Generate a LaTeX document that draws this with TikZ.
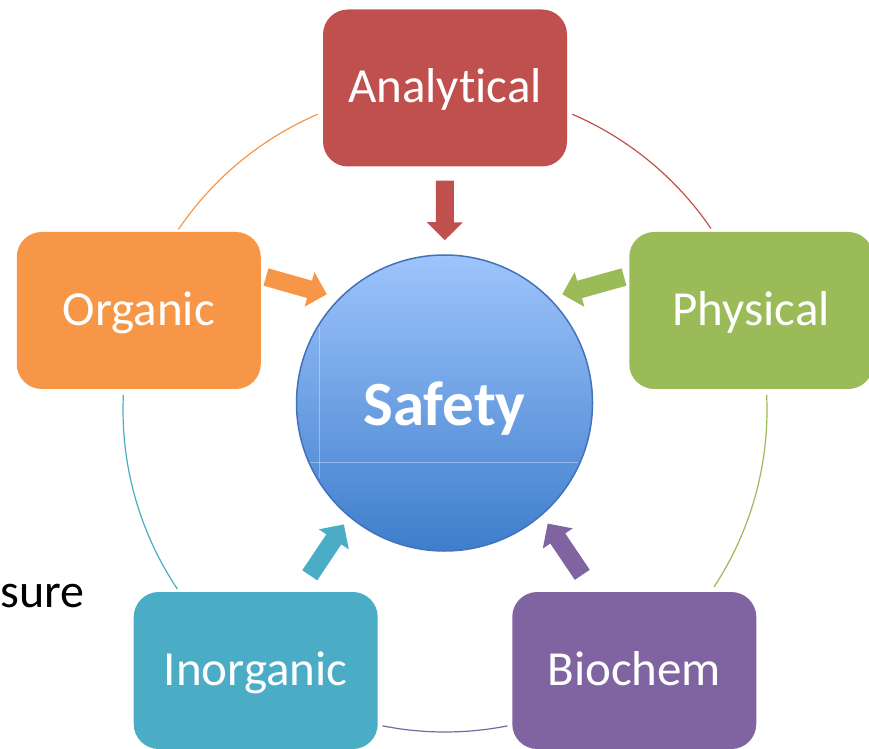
\documentclass[tikz,border=0pt]{standalone}
\usepackage{fontspec}
\setmainfont{Carlito}[Ligatures={NoCommon}]
\usetikzlibrary{arrows.meta}

\definecolor{anared}{RGB}{192,80,77}
\definecolor{orgorange}{RGB}{247,150,70}
\definecolor{phygreen}{RGB}{155,187,89}
\definecolor{inoteal}{RGB}{75,172,198}
\definecolor{biopurple}{RGB}{128,100,162}
\definecolor{safetop}{RGB}{158,196,252}
\definecolor{safebot}{RGB}{62,126,204}
\definecolor{safeline}{RGB}{66,114,186}

\tikzset{
  topic/.style={rectangle, rounded corners=25pt, minimum width=244pt, minimum height=157pt,
    inner sep=0pt, text=white, text height=30pt, text depth=0pt,
    font=\fontsize{49}{58}\selectfont},
  fatarrow/.style={line width=18pt, -{Triangle[width=35pt,length=18pt]}},
  ring/.style={line width=1.2pt},
}

\begin{document}
\begin{tikzpicture}[x=1pt,y=1pt]
\useasboundingbox (0,0) rectangle (869,748);
\coordinate (O) at (445,338);

% ring between the topics
\foreach \c/\a/\b in {orgorange/145.9/113.3, anared/66.7/34.3, phygreen/2.7/-33.3,
                      biopurple/-78.8/-101.2, inoteal/-146.2/-182.7} {
    \draw[ring,\c] ([shift={(\a:322pt)}]O) arc[start angle=\a, end angle=\b, radius=322pt];
}

% topics
\node[topic, fill=anared]    (ana) at ([shift={(90:322pt)}]O)  {Analytical};
\node[topic, fill=orgorange] (org) at ([shift={(162:322pt)}]O) {Organic};
\node[topic, fill=phygreen]  (phy) at ([shift={(18:322pt)}]O)  {Physical};
\node[topic, fill=inoteal]   (ino) at ([shift={(234:322pt)}]O) {Inorganic};
\node[topic, fill=biopurple] (bio) at ([shift={(306:322pt)}]O) {Biochem};

% centre
\node[circle, minimum size=296pt, inner sep=0pt, draw=safeline, line width=1.5pt,
      top color=safetop, bottom color=safebot, text=white, text height=44pt, text depth=0pt,
      font=\fontsize{63}{72}\selectfont\bfseries] (safety) at (444.5,345) {Safety};
\draw[white, opacity=0.35, line width=0.8pt] (319,421) -- (319,270);
\draw[white, opacity=0.35, line width=0.8pt] (310,286) -- (578,286);

% arrows into the centre
\draw[fatarrow, anared, shorten <=14pt, shorten >=14pt] (ana) -- (safety);
\draw[fatarrow, orgorange, shorten >=13pt] ([xshift=5pt,yshift=33.5pt]org.east) -- (safety.135);
\draw[fatarrow, phygreen, shorten >=13pt] ([xshift=-5pt,yshift=33.5pt]phy.west) -- (safety.45);
\draw[fatarrow, inoteal, shorten >=9pt] ([xshift=54pt,yshift=16.5pt]ino.north) -- (safety.230);
\draw[fatarrow, biopurple, shorten >=10pt] ([xshift=-52pt,yshift=17pt]bio.north) -- (safety.311);

\node[anchor=base east, inner sep=0pt, font=\fontsize{48}{58}\selectfont] (ensure) at (85,141) {ensure};
\end{tikzpicture}
\end{document}
